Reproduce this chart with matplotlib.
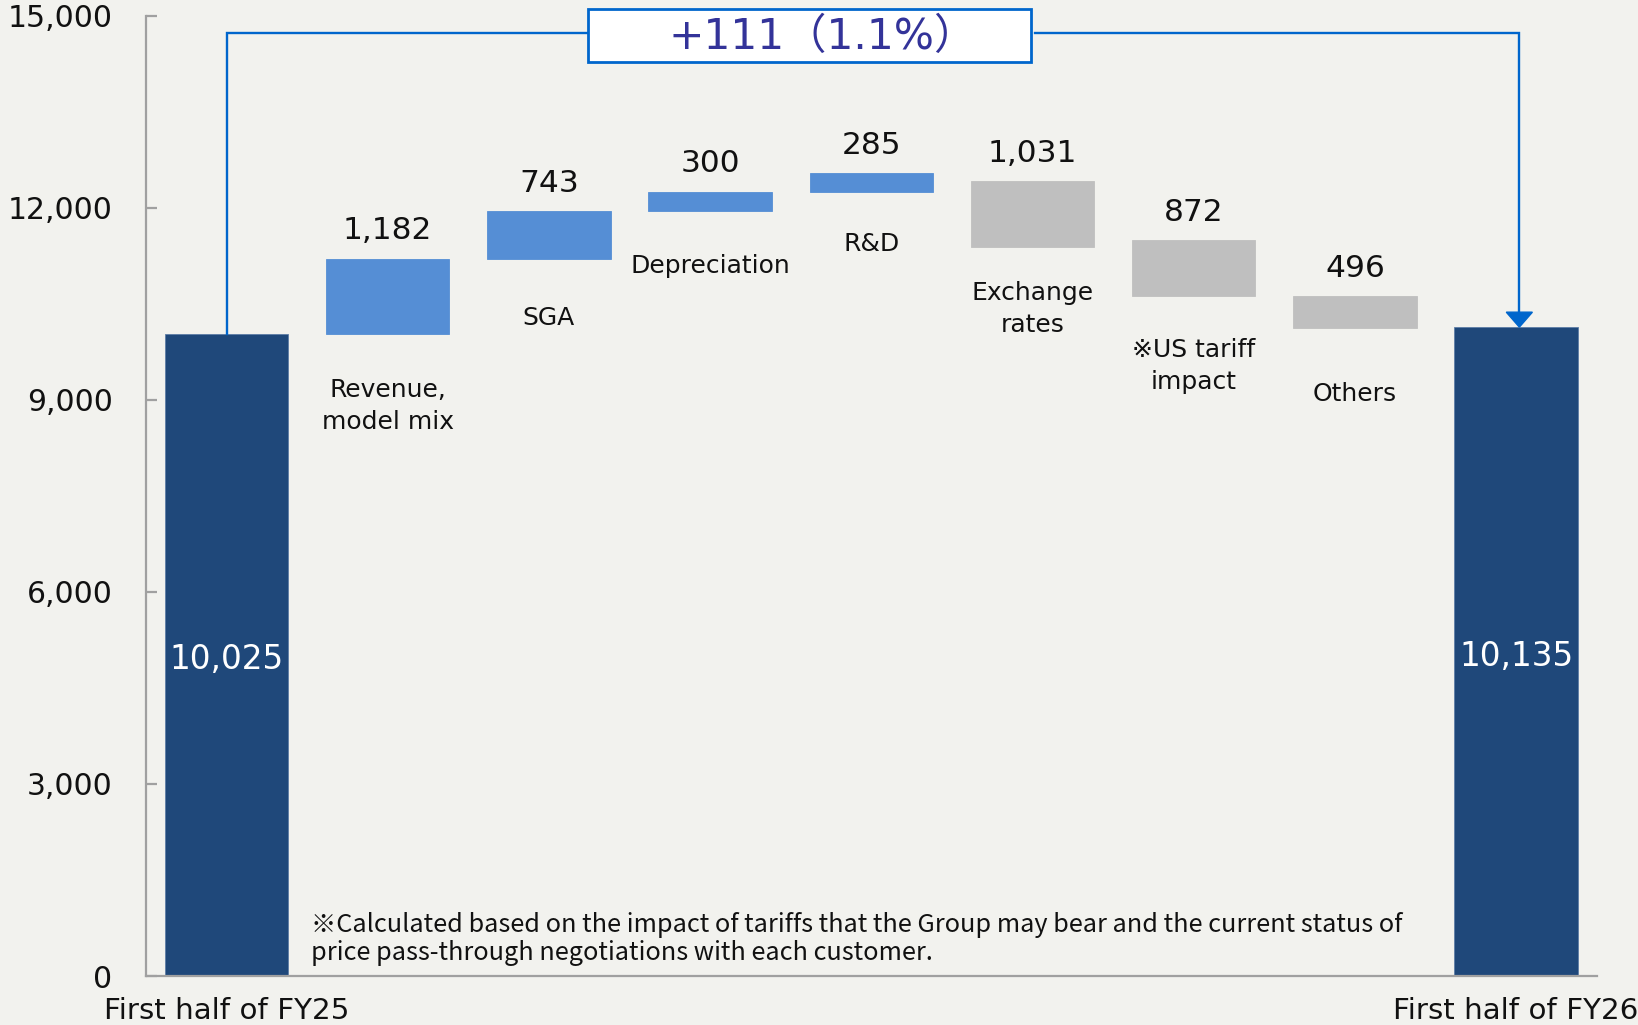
import matplotlib
matplotlib.use("Agg")
import matplotlib.pyplot as plt
from matplotlib.patches import Rectangle, Polygon
from matplotlib.ticker import FuncFormatter

# ---------------- data ----------------
categories = ["First half of FY25", "Revenue,\nmodel mix", "SGA", "Depreciation", "R&D",
              "Exchange\nrates", "※US tariff\nimpact", "Others", "First half of FY26"]
start_value = 10025
end_value = 10135
deltas = [1182, 743, 300, 285, -1031, -872, -496]
# lower edges of the floating bars as drawn in the chart
bar_bases = [10025, 11207, 11950, 12250, 11380, 10625, 10125]
change_label = "+111（1.1%）"
footnote = ("※Calculated based on the impact of tariffs that the Group may bear and the current status of\n"
            "price pass-through negotiations with each customer.")
y_ticks = [0, 3000, 6000, 9000, 12000, 15000]

# ---------------- style ----------------
BG = "#F2F2EE"
NAVY = "#1F487A"
BLUE = "#558ED5"
GRAY = "#BFBFBF"
LINE = "#0066CC"
SPINE = "#A0A0A0"
FAM = ["DejaVu Sans", "Noto Sans CJK JP"]
plt.rcParams["font.family"] = FAM

fig = plt.figure(figsize=(16.38, 10.25), dpi=100, facecolor=BG)
ax = fig.add_axes([0.0891, 0.0478, 0.9748 - 0.0891, 0.9847 - 0.0478])
ax.set_facecolor(BG)
ax.set_xlim(-0.5, 8.5)
ax.set_ylim(0, 15000)

W = 0.766
n = len(categories)
# totals
ax.bar([0, n - 1], [start_value, end_value], width=W, color=NAVY,
       edgecolor="#5E7EA6", linewidth=0.6, zorder=2)
# floating bars
for i, (d, b) in enumerate(zip(deltas, bar_bases), start=1):
    col = BLUE if d > 0 else GRAY
    ax.bar(i, abs(d), bottom=b, width=W, color=col, edgecolor=col, linewidth=0.6, zorder=2)
    ax.annotate(f"{abs(d):,}", (i, b + abs(d)), xytext=(0, 14), textcoords="offset points",
                ha="center", va="baseline", fontsize=22.5, color="#111111")

# value labels inside total bars
ax.text(0, 4950, f"{start_value:,}", ha="center", va="center",
        fontsize=23.5, color="white", zorder=3)
ax.text(n - 1, 4990, f"{end_value:,}", ha="center", va="center",
        fontsize=23.5, color="white", zorder=3)

# category labels for the floating bars
label_y = [8900, 10272, 11094, 11440, 10420, 9530, 9097]
for i, ly in enumerate(label_y, start=1):
    ax.text(i, ly, categories[i], ha="center", va="center", fontsize=18,
            color="#111111", linespacing=1.42)

# category labels for totals under axis
ax.text(0, -665, categories[0], ha="center", va="baseline", fontsize=21.2,
        color="#111111", clip_on=False)
ax.text(n - 1, -665, categories[-1], ha="center", va="baseline", fontsize=21.2,
        color="#111111", clip_on=False)

# footnote
ax.text(0.527, 575, footnote, ha="left", va="center", fontsize=18.2,
        family=["Noto Sans CJK JP", "DejaVu Sans"], color="#111111", linespacing=1.12)

# bracket with change
y_br = 14723
box_x0, box_x1 = 2.243, 4.988
ax.plot([0, 0, box_x0], [start_value, y_br, y_br], color=LINE, lw=1.7,
        clip_on=False, zorder=4, solid_joinstyle="miter")
x_r = 8.02
tip_h = 234
ax.plot([box_x1 + 0.03, x_r, x_r], [y_br, y_br, end_value + tip_h], color=LINE, lw=1.7,
        clip_on=False, zorder=4, solid_joinstyle="miter")
ax.add_patch(Polygon([[x_r - 0.081, end_value + tip_h], [x_r + 0.081, end_value + tip_h],
                      [x_r, end_value]], closed=True, color=LINE, zorder=4, clip_on=False))
ax.add_patch(Rectangle((box_x0, 14270), box_x1 - box_x0, 835, facecolor="white",
                       edgecolor=LINE, lw=2.0, clip_on=False, zorder=5))
ax.text((box_x0 + box_x1) / 2 + 0.08, 14670, change_label, ha="center", va="center",
        fontsize=30.5, color="#333399", zorder=6)

# axes styling
for s in ["top", "right"]:
    ax.spines[s].set_visible(False)
for s in ["left", "bottom"]:
    ax.spines[s].set_color(SPINE)
    ax.spines[s].set_linewidth(1.6)
ax.set_xticks([])
ax.set_yticks(y_ticks)
ax.yaxis.set_major_formatter(FuncFormatter(lambda v, p: f"{int(v):,}"))
ax.tick_params(axis="y", direction="in", length=8, width=1.6, color=SPINE,
               pad=24, labelsize=21.5, labelcolor="#111111")

fig.savefig("out.png", dpi=100, facecolor=BG)
